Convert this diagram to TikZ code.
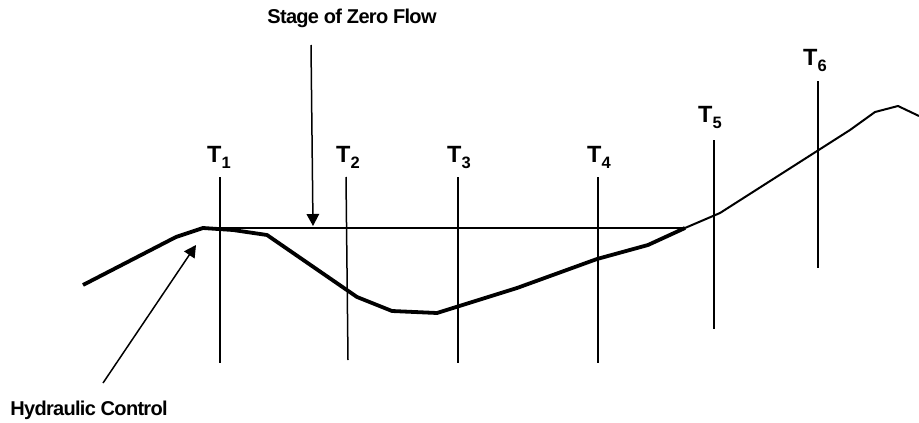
\documentclass[tikz,border=0pt]{standalone}
\usepackage{fontspec}
\setmainfont{Liberation Sans}
\newfontfamily\capfont[LetterSpace=-3.5]{Liberation Sans}
\usetikzlibrary{arrows.meta,positioning}

\newcommand{\tname}[1]{{\fontsize{23.5}{23.5}\selectfont T}\raisebox{-6pt}{\fontsize{16.5}{16.5}\selectfont #1}}

\begin{document}
\begin{tikzpicture}[x=1pt, y=-1pt, >={Triangle[length=12pt,width=12.5pt]},
    section/.style={line width=1.5pt},
    bed/.style={line width=3.8pt, line join=round},
    surface/.style={line width=2pt, line join=round},
    note/.style={font=\capfont\bfseries\fontsize{20}{22}\selectfont, inner sep=0pt},
    tlabel/.style={anchor=base west, inner sep=0pt, font=\bfseries}]
    \useasboundingbox (0,0) rectangle (919,423);
    % captions
    \node[note] (stage) at (352,18) {Stage of Zero Flow};
    \node[note] (hyd) at (89,410) {Hydraulic Control};
    % section labels
    \node[tlabel] (lblT1) at (207,162) {\tname{1}};
    \node[tlabel] (lblT2) at (336,162) {\tname{2}};
    \node[tlabel] (lblT3) at (447,162) {\tname{3}};
    \node[tlabel] (lblT4) at (587,162) {\tname{4}};
    \node[tlabel] (lblT5) at (698,122) {\tname{5}};
    \node[tlabel] (lblT6) at (803,65) {\tname{6}};
    % section lines
    \coordinate (t1top) at (220,177);  \coordinate (t1bot) at (220,363);
    \coordinate (t2top) at (346,177);  \coordinate (t2bot) at (348,360);
    \coordinate (t3top) at (458,177);  \coordinate (t3bot) at (458,363);
    \coordinate (t4top) at (598,177);  \coordinate (t4bot) at (598,363);
    \coordinate (t5top) at (714,140);  \coordinate (t5bot) at (714,329);
    \coordinate (t6top) at (818,81);   \coordinate (t6bot) at (818,268);
    \draw[section] (t1top) -- (t1bot);
    \draw[section] (t2top) -- (t2bot);
    \draw[section] (t3top) -- (t3bot);
    \draw[section] (t4top) -- (t4bot);
    \draw[section] (t5top) -- (t5bot);
    \draw[section] (t6top) -- (t6bot);
    % pool surface at zero flow
    \coordinate (crest) at (203,228);
    \coordinate (poolend) at (685,228);
    \draw[section] (crest) -- (poolend);
    % channel bed
    \draw[bed] (83,285) -- (176,237) -- (crest) -- (233,230) -- (267,235)
        -- (357,297) -- (392,311) -- (437,313) -- (517,288) -- (597,259)
        -- (648,245) -- (poolend);
    \draw[surface] (poolend) -- (720,213) -- (850,130) -- (875,112)
        -- (898,106) -- (919,116);
    % pointers
    \coordinate (zftail) at (311,45);
    \coordinate (zf) at (313,226);
    \coordinate (hctail) at (103,383);
    \coordinate (hc) at (196,245);
    \draw[section, ->] (zftail) -- (zf);
    \draw[section, ->] (hctail) -- (hc);
\end{tikzpicture}
\end{document}
